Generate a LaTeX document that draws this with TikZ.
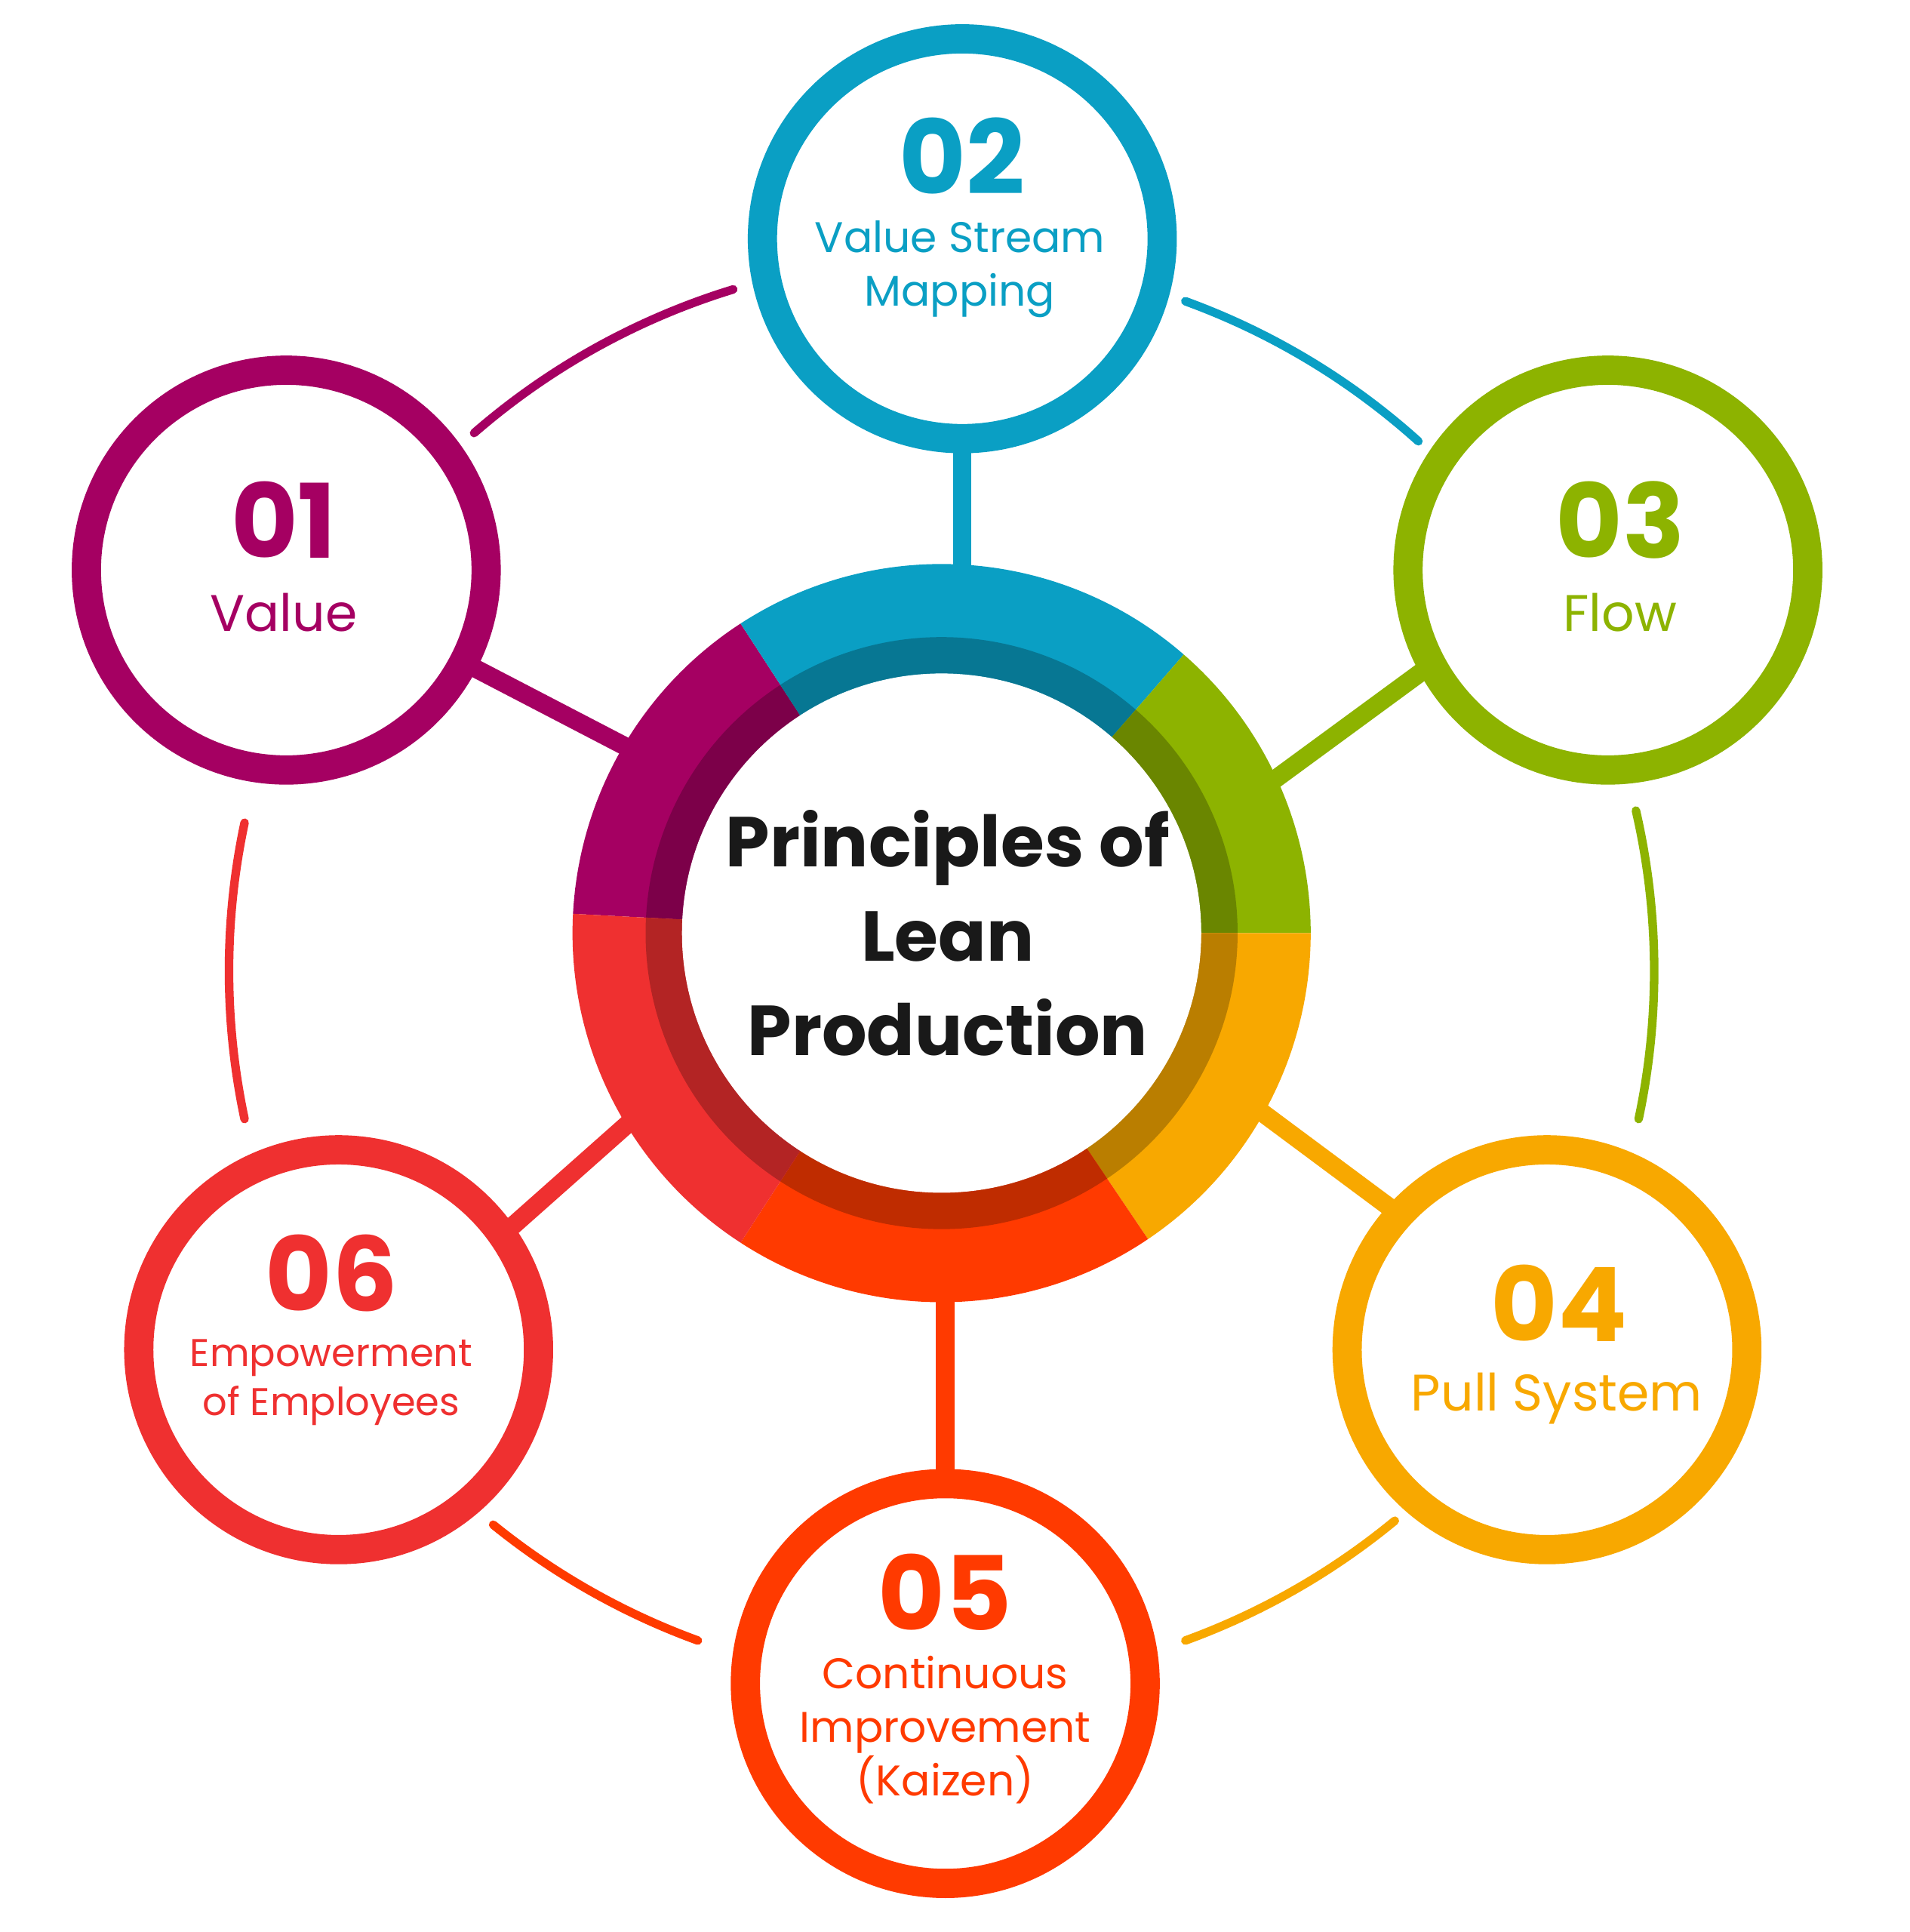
\documentclass[tikz,border=0pt]{standalone}
\usepackage{fontspec}
\setmainfont{Poppins}
\usetikzlibrary{calc}
\definecolor{cmag}{HTML}{A50062}
\definecolor{cblue}{HTML}{0A9FC4}
\definecolor{cgreen}{HTML}{8DB300}
\definecolor{corange}{HTML}{F8A800}
\definecolor{cfire}{HTML}{FF3A00}
\definecolor{cred}{HTML}{EF3030}
\tikzset{
  ring/.style={circle,draw=#1,line width=0.24cm,minimum size=3.28cm,inner sep=0pt,fill=white},
  spoke/.style={draw=#1,line width=0.15cm},
  link/.style={draw=#1,line width=0.07cm,line cap=round},
  num/.style={text=#1,font=\fontsize{24}{24}\selectfont\bfseries},
  lbl/.style={text=#1,font=\fontsize{10}{12.5}\selectfont,align=center},
}
\begin{document}
\begin{tikzpicture}[x=0.01cm,y=0.01cm]
\useasboundingbox[fill=white] (0,0) rectangle (1568,-1586);
\coordinate (hub) at (773,-766);
\coordinate (hc) at (773,-797);
% connectors to the hub
\coordinate (c1) at (235,-468);
\coordinate (c2) at (790,-196);
\coordinate (c3) at (1320,-468);
\coordinate (c4) at (1270,-1108);
\coordinate (c5) at (776,-1382);
\coordinate (c6) at (278,-1108);
\coordinate (s1) at (560,-637);
\coordinate (s3) at (1000,-674);
\coordinate (s4) at (990,-879);
\coordinate (s6) at (560,-883);
\draw[spoke=cmag] (c1) -- (s1);
\draw[spoke=cblue] (c2) -- (790,-700);
\draw[spoke=cgreen] (1240,-498) -- (s3);
\draw[spoke=corange] (1220,-1050) -- (s4);
\draw[spoke=cfire] (c5) -- (776,-900);
\draw[spoke=cred] (330,-1087) -- (s6);
% hub segments
\foreach \col/\a/\b in {cmag/123/177,cblue/49/123,cgreen/0/49,corange/-56/0,cfire/-123/-56,cred/177/237}{
  \fill[\col] ($(hub)+(\a:303)$) arc (\a:\b:303) -- ($(hub)+(\b:213)$) arc (\b:\a:213) -- cycle;
  \fill[\col!75!black] ($(hub)+(\a:243)$) arc (\a:\b:243) -- ($(hub)+(\b:213)$) arc (\b:\a:213) -- cycle;
}
\node[circle,fill=white,minimum size=4.26cm,inner sep=0pt] (core) at (hub) {};
\node[font=\fontsize{16.5}{22}\selectfont\bfseries,align=center,text=black!90] (title) at (778,-766) {Principles of\\Lean\\Production};
% outer links
\foreach \col/\a/\b in {cmag/131/107,cblue/70/48,cgreen/13/-12,corange/-50.5/-70,cfire/-110/-129,cred/192/168}{
  \draw[link=\col] ($(hc)+(\a:585)$) arc (\a:\b:585);
}
% principle circles
\node[ring=cmag] (p1) at (c1) {};
\node[ring=cblue] (p2) at (c2) {};
\node[ring=cgreen] (p3) at (c3) {};
\node[ring=corange] (p4) at (c4) {};
\node[ring=cfire] (p5) at (c5) {};
\node[ring=cred] (p6) at (c6) {};
\node[num=cmag] (n1) at (233,-427) {01};
\node[lbl=cmag,font=\fontsize{12}{14}\selectfont] (l1) at (233,-503) {Value};
\node[num=cblue] (n2) at (790,-128) {02};
\node[lbl=cblue] (l2) at (788,-221) {Value Stream\\Mapping};
\node[num=cgreen] (n3) at (1330,-427) {03};
\node[lbl=cgreen,font=\fontsize{12}{14}\selectfont] (l3) at (1330,-503) {Flow};
\node[num=corange] (n4) at (1280,-1070) {04};
\node[lbl=corange,font=\fontsize{12}{14}\selectfont] (l4) at (1278,-1148) {Pull System};
\node[num=cfire] (n5) at (776,-1307) {05};
\node[lbl=cfire] (l5) at (776,-1420) {Continuous\\Improvement\\(Kaizen)};
\node[num=cred] (n6) at (272,-1045) {06};
\node[lbl=cred,font=\fontsize{9}{11.5}\selectfont] (l6) at (272,-1135) {Empowerment\\of Employees};
\end{tikzpicture}
\end{document}
